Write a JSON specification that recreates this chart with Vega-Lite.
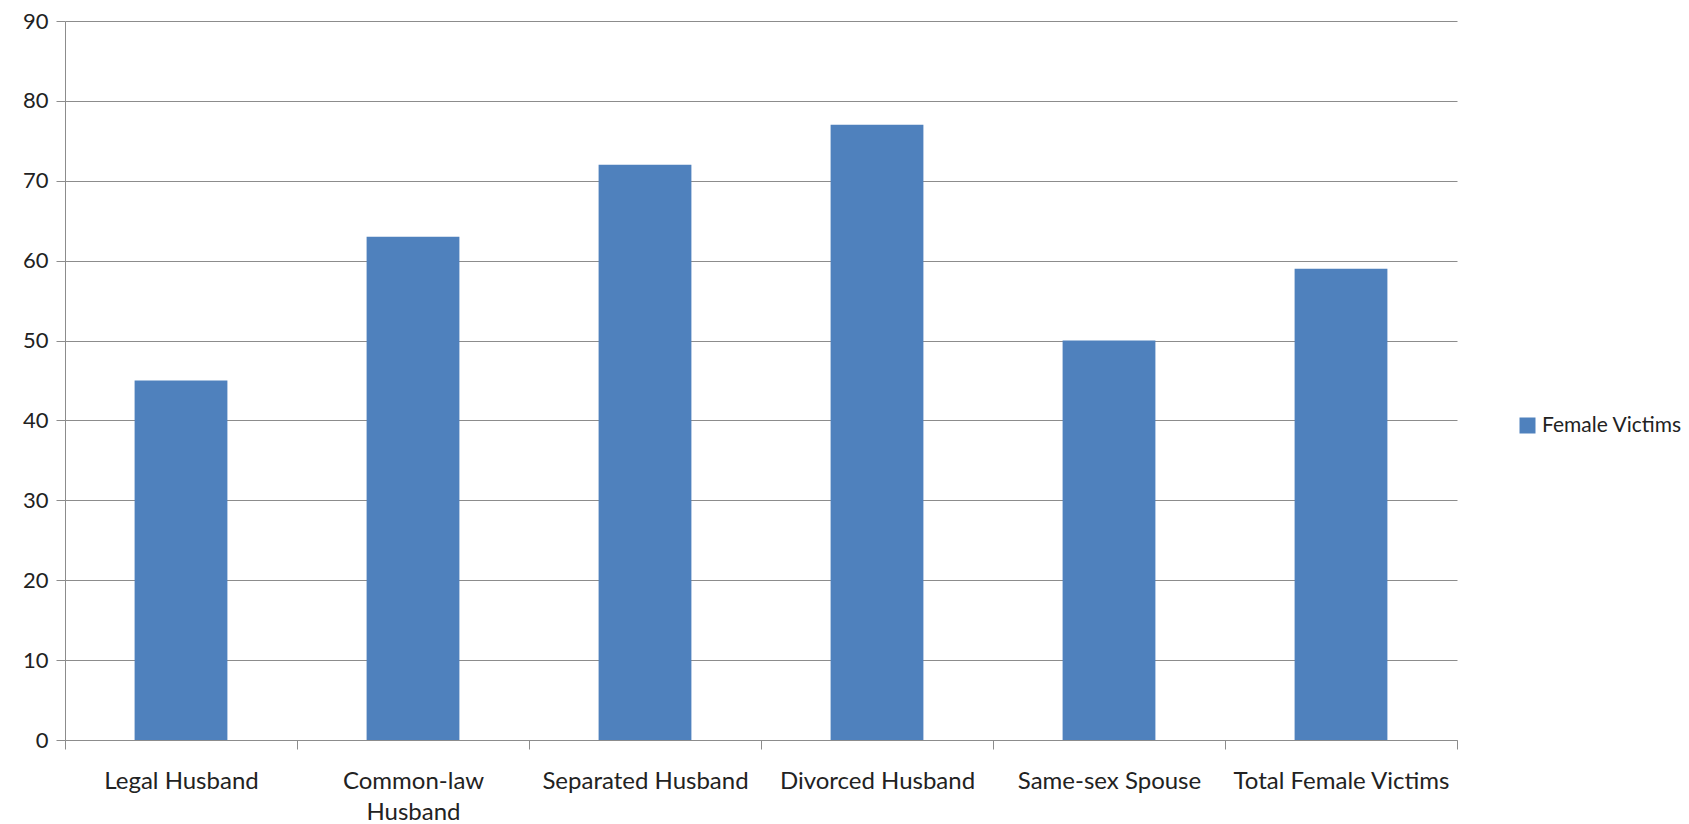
{
  "$schema": "https://vega.github.io/schema/vega-lite/v6.json",
  "autosize": "none",
  "width": 1392,
  "height": 719,
  "padding": {"left": 65, "top": 21, "right": 232, "bottom": 84},
  "background": "white",
  "data": {
    "values": [
      {"category": "Legal Husband", "value": 45, "series": "Female Victims"},
      {"category": "Common-law Husband", "value": 63, "series": "Female Victims"},
      {"category": "Separated Husband", "value": 72, "series": "Female Victims"},
      {"category": "Divorced Husband", "value": 77, "series": "Female Victims"},
      {"category": "Same-sex Spouse", "value": 50, "series": "Female Victims"},
      {"category": "Total Female Victims", "value": 59, "series": "Female Victims"}
    ]
  },
  "mark": {"type": "bar", "width": {"band": 0.4}},
  "encoding": {
    "x": {
      "field": "category",
      "type": "nominal",
      "sort": null,
      "scale": {"paddingInner": 0, "paddingOuter": 0},
      "axis": {
        "title": null,
        "labelAngle": 0,
        "labelFont": "Lato",
        "labelFontSize": 24,
        "labelColor": "#222222",
        "labelPadding": 20,
        "labelLimit": 400,
        "labelLineHeight": 31,
        "labelBaseline": "top",
        "labelExpr": "datum.label == 'Common-law Husband' ? ['Common-law', 'Husband'] : datum.label",
        "tickBand": "extent",
        "tickSize": 9,
        "tickColor": "#8c8c8c",
        "domainColor": "#8c8c8c",
        "grid": false
      }
    },
    "y": {
      "field": "value",
      "type": "quantitative",
      "scale": {"domain": [0, 90], "nice": false},
      "axis": {
        "title": null,
        "values": [0, 10, 20, 30, 40, 50, 60, 70, 80, 90],
        "labelFont": "Lato",
        "labelFontSize": 22,
        "labelColor": "#222222",
        "labelPadding": 8,
        "tickSize": 9,
        "tickColor": "#8c8c8c",
        "domainColor": "#8c8c8c",
        "gridColor": "#8c8c8c",
        "gridOpacity": 1,
        "grid": true
      }
    },
    "color": {
      "field": "series",
      "type": "nominal",
      "scale": {"range": ["#4F81BD"]},
      "legend": {
        "title": null,
        "orient": "none",
        "legendX": 1452,
        "legendY": 394,
        "symbolType": "square",
        "symbolSize": 256,
        "symbolStrokeWidth": 0,
        "labelFont": "Lato",
        "labelFontSize": 21,
        "labelColor": "#222222",
        "labelOffset": 4
      }
    }
  },
  "config": {
    "view": {"stroke": null}
  }
}
